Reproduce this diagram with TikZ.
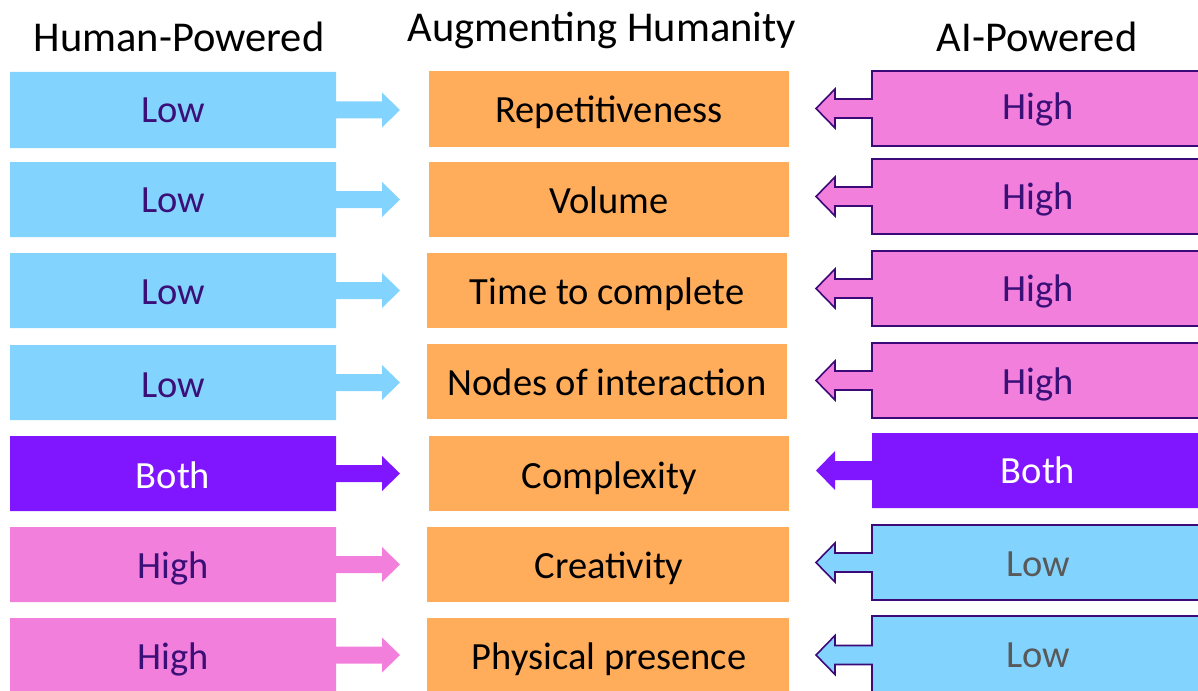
\documentclass[tikz,border=0pt]{standalone}
\usepackage{fontspec}
\setmainfont{Carlito}
\definecolor{hblue}{HTML}{83D3FF}
\definecolor{hpink}{HTML}{F27FDB}
\definecolor{hpurple}{HTML}{8015FF}
\definecolor{horange}{HTML}{FFAD5B}
\definecolor{dkpurple}{HTML}{3B0F78}
\definecolor{outl}{HTML}{3C0A78}
\definecolor{gtext}{HTML}{595959}
\tikzset{
  title/.style={font=\fontsize{42.5}{50}\selectfont, anchor=base, inner sep=0pt},
  lbl/.style={font=\fontsize{38.5}{46}\selectfont, anchor=base, inner sep=0pt},
}
\newcommand{\leftbox}[5]{% top, bottom, fill, textcolor, text
  \pgfmathsetmacro{\cc}{(#1+#2)/2}
  \fill[#3] (10,#1) -- (336,#1) -- (336,\cc-8.5) -- (382,\cc-8.5) -- (382,\cc-17.5)
     -- (400,\cc) -- (382,\cc+17.5) -- (382,\cc+8.5) -- (336,\cc+8.5) -- (336,#2) -- (10,#2) -- cycle;
}
\newcommand{\rightbox}[3]{% top, bottom, fill/draw options
  \pgfmathsetmacro{\cc}{(#1+#2)/2}
  \path[#3] (1205,#1) -- (872,#1) -- (872,\cc-9.5) -- (835,\cc-9.5) -- (835,\cc-19.5)
     -- (816,\cc) -- (835,\cc+19.5) -- (835,\cc+9.5) -- (872,\cc+9.5) -- (872,#2) -- (1205,#2) -- cycle;
}
\begin{document}
\begin{tikzpicture}[x=1pt,y=-1pt]
\useasboundingbox (0,0) rectangle (1198,690);
\clip (0,0) rectangle (1198,690);
% titles
\node[title] (tl) at (179,52) {Human-Powered};
\node[title] (tc) at (602,42) {Augmenting Humanity};
\node[title] (tr) at (1037,52) {AI-Powered};
% left column
\leftbox{72}{148}{hblue}{}{}
\leftbox{162}{237}{hblue}{}{}
\leftbox{253}{328}{hblue}{}{}
\leftbox{345}{420}{hblue}{}{}
\leftbox{436}{511}{hpurple}{}{}
\leftbox{527}{602}{hpink}{}{}
\leftbox{618}{692}{hpink}{}{}
\node[lbl,text=dkpurple] (l1) at (173,122.5) {Low};
\node[lbl,text=dkpurple] (l2) at (173,212.5) {Low};
\node[lbl,text=dkpurple] (l3) at (173,304.5) {Low};
\node[lbl,text=dkpurple] (l4) at (173,397.5) {Low};
\node[lbl,text=white] (l5) at (173,488.5) {Both};
\node[lbl,text=dkpurple] (l6) at (173,578.5) {High};
\node[lbl,text=dkpurple] (l7) at (173,669.5) {High};
% center column
\fill[horange] (429,71) rectangle (789,147);
\fill[horange] (429,162) rectangle (789,237);
\fill[horange] (427,253) rectangle (787,328);
\fill[horange] (427,344) rectangle (787,419);
\fill[horange] (429,436) rectangle (789,511);
\fill[horange] (427,527) rectangle (789,602);
\fill[horange] (427,618) rectangle (789,692);
\node[lbl] (c1) at (609,122.5) {Repetitiveness};
\node[lbl] (c2) at (609,213.5) {Volume};
\node[lbl] (c3) at (607,304.5) {Time to complete};
\node[lbl] (c4) at (607,395.5) {Nodes of interaction};
\node[lbl] (c5) at (609,488.5) {Complexity};
\node[lbl] (c6) at (609,578.5) {Creativity};
\node[lbl] (c7) at (609,669.5) {Physical presence};
% right column
\rightbox{71}{146}{fill=hpink,draw=outl,line width=1.6pt}
\rightbox{159}{234}{fill=hpink,draw=outl,line width=1.6pt}
\rightbox{251}{326}{fill=hpink,draw=outl,line width=1.6pt}
\rightbox{343}{418}{fill=hpink,draw=outl,line width=1.6pt}
\rightbox{433}{508}{fill=hpurple}
\rightbox{525}{600}{fill=hblue,draw=outl,line width=1.6pt}
\rightbox{616}{694}{fill=hblue,draw=outl,line width=1.6pt}
\node[lbl,text=dkpurple] (r1) at (1038,119.5) {High};
\node[lbl,text=dkpurple] (r2) at (1038,209.5) {High};
\node[lbl,text=dkpurple] (r3) at (1038,301.5) {High};
\node[lbl,text=dkpurple] (r4) at (1038,394.5) {High};
\node[lbl,text=white] (r5) at (1038,483.5) {Both};
\node[lbl,text=gtext] (r6) at (1038,576.5) {Low};
\node[lbl,text=gtext] (r7) at (1038,667.5) {Low};
\end{tikzpicture}
\end{document}
